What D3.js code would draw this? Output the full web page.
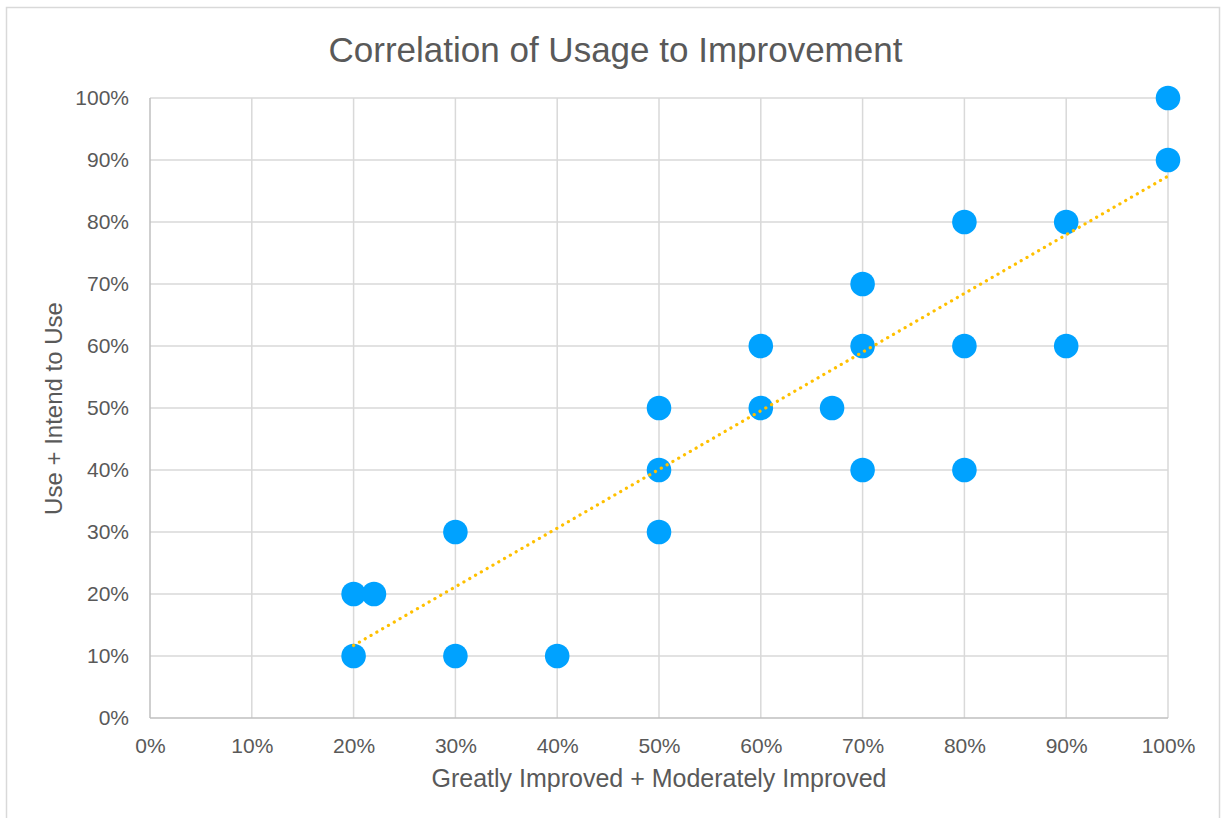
<!DOCTYPE html>
<html><head><meta charset="utf-8">
<script src="https://cdn.jsdelivr.net/npm/d3@7"></script>
<style>body{margin:0;background:#fff;}svg{display:block;font-family:Arial,"Liberation Sans",sans-serif;}</style>
</head><body>
<svg id="c" width="1224" height="818"></svg>
<script>
const xValues = [20,20,22,30,30,40,50,50,50,60,60,67,70,70,70,80,80,80,90,90,100,100];
const yValues = [10,20,20,30,10,10,50,40,30,60,50,50,70,60,40,80,60,40,80,60,100,90];
// trendline as drawn in the reference
const trendX = [20,100];
const trendY = [11.7,87.4];
const xTicks = [0,10,20,30,40,50,60,70,80,90,100];
const yTicks = [0,10,20,30,40,50,60,70,80,90,100];
const title = "Correlation of Usage to Improvement";
const xTitle = "Greatly Improved + Moderately Improved";
const yTitle = "Use + Intend to Use";

const svg = d3.select("#c");
svg.append("rect").attr("x",6.5).attr("y",7.5).attr("width",1213).attr("height",830)
  .attr("fill","#fff").attr("stroke","#d9d9d9").attr("stroke-width",1.5);

const x = d3.scaleLinear().domain([0,100]).range([150,1168]);
const y = d3.scaleLinear().domain([0,100]).range([718,98]);

// gridlines
svg.append("g").selectAll("line").data(xTicks.filter(d=>d>0)).join("line")
  .attr("x1",d=>x(d)).attr("x2",d=>x(d)).attr("y1",y(0)).attr("y2",y(100))
  .attr("stroke","#d9d9d9").attr("stroke-width",1.5);
svg.append("g").selectAll("line").data(yTicks.filter(d=>d>0)).join("line")
  .attr("x1",x(0)).attr("x2",x(100)).attr("y1",d=>y(d)).attr("y2",d=>y(d))
  .attr("stroke","#d9d9d9").attr("stroke-width",1.5);
// axes lines
svg.append("line").attr("x1",x(0)).attr("x2",x(100)).attr("y1",y(0)).attr("y2",y(0)).attr("stroke","#bfbfbf").attr("stroke-width",1.5);
svg.append("line").attr("x1",x(0)).attr("x2",x(0)).attr("y1",y(0)).attr("y2",y(100)).attr("stroke","#bfbfbf").attr("stroke-width",1.5);

// axes via d3
const xAxis = svg.append("g").attr("transform",`translate(0,${y(0)})`)
  .call(d3.axisBottom(x).tickValues(xTicks).tickFormat(d=>d+"%").tickSize(0).tickPadding(20));
const yAxis = svg.append("g").attr("transform",`translate(${x(0)},0)`)
  .call(d3.axisLeft(y).tickValues(yTicks).tickFormat(d=>d+"%").tickSize(0).tickPadding(21));
[xAxis,yAxis].forEach(a=>{
  a.select(".domain").remove();
  a.selectAll("text").attr("fill","#595959").style("font-size","21px").style("font-family","Arial,'Liberation Sans',sans-serif");
});

// points
svg.append("g").selectAll("circle").data(xValues.map((v,i)=>[v,yValues[i]])).join("circle")
  .attr("cx",d=>x(d[0])).attr("cy",d=>y(d[1])).attr("r",12.3).attr("fill","#00a2ff");

// trendline
svg.append("path").datum(trendX.map((v,i)=>[v,trendY[i]]))
  .attr("d",d3.line().x(d=>x(d[0])).y(d=>y(d[1])))
  .attr("fill","none").attr("stroke","#ffc000").attr("stroke-width",3.2)
  .attr("stroke-dasharray","0.1 6.6").attr("stroke-linecap","round");

// titles
svg.append("text").attr("x",615.5).attr("y",62).attr("text-anchor","middle").attr("fill","#595959")
  .style("font-size","35px").text(title);
svg.append("text").attr("x",659).attr("y",787).attr("text-anchor","middle").attr("fill","#595959")
  .style("font-size","25px").text(xTitle);
svg.append("text").attr("transform","translate(62,408.5) rotate(-90)").attr("text-anchor","middle").attr("fill","#595959")
  .style("font-size","24px").text(yTitle);
</script>
</body></html>
